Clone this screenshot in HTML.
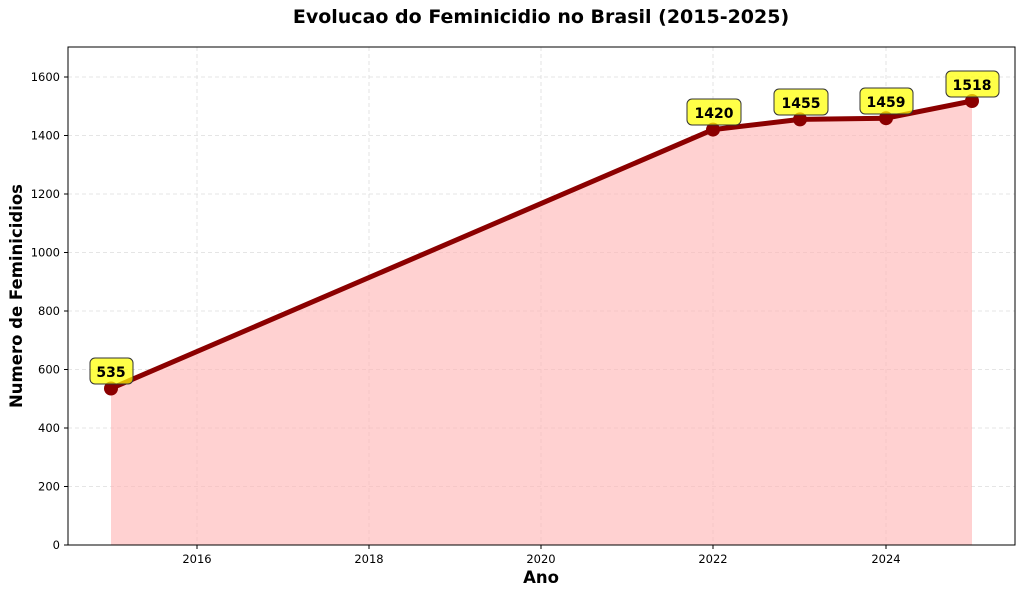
<!DOCTYPE html>
<html><head><meta charset="utf-8"><style>body{margin:0;background:#fff}svg{display:block}</style></head><body>
<svg width="1024" height="595" xmlns="http://www.w3.org/2000/svg" font-family="'DejaVu Sans',sans-serif">
<rect width="1024" height="595" fill="#fff"/>
<text x="541" y="23" text-anchor="middle" font-size="19" font-weight="bold">Evolucao do Feminicidio no Brasil (2015-2025)</text>
<g stroke="#ddd" stroke-dasharray="4,3" stroke-width="0.8">
<line x1="197" y1="47" x2="197" y2="545"/><line x1="369" y1="47" x2="369" y2="545"/><line x1="541" y1="47" x2="541" y2="545"/><line x1="713" y1="47" x2="713" y2="545"/><line x1="886" y1="47" x2="886" y2="545"/>
<line x1="68" y1="486.5" x2="1015" y2="486.5"/><line x1="68" y1="428" x2="1015" y2="428"/><line x1="68" y1="369.5" x2="1015" y2="369.5"/><line x1="68" y1="311" x2="1015" y2="311"/><line x1="68" y1="252.5" x2="1015" y2="252.5"/><line x1="68" y1="194" x2="1015" y2="194"/><line x1="68" y1="135.5" x2="1015" y2="135.5"/><line x1="68" y1="77" x2="1015" y2="77"/>
</g>
<polygon points="111,545 111,388.5 713,129.6 800,119.4 886,118.2 972,101 972,545" fill="#ffb3b3" fill-opacity="0.6"/>
<polyline points="111,388.5 713,129.6 800,119.4 886,118.2 972,101" fill="none" stroke="#8b0000" stroke-width="5" stroke-linejoin="round"/>
<g fill="#8b0000"><circle cx="111" cy="388.5" r="7"/><circle cx="713" cy="129.6" r="7"/><circle cx="800" cy="119.4" r="7"/><circle cx="886" cy="118.2" r="7"/><circle cx="972" cy="101" r="7"/></g>
<g fill="#ffff00" fill-opacity="0.72" stroke="#333" stroke-width="1">
<rect x="90" y="358" width="43" height="26" rx="5"/>
<rect x="687" y="99" width="54" height="26" rx="5"/>
<rect x="774" y="89" width="54" height="26" rx="5"/>
<rect x="860" y="88" width="53" height="26" rx="5"/>
<rect x="946" y="71" width="53" height="26" rx="5"/>
</g>
<g font-size="14" font-weight="bold" text-anchor="middle">
<text x="111" y="377">535</text><text x="714" y="118">1420</text><text x="801" y="108">1455</text><text x="886" y="107">1459</text><text x="972" y="90">1518</text>
</g>
<rect x="68" y="47" width="947" height="498" fill="none" stroke="#000" stroke-width="1"/>
<g stroke="#000"><line x1="197" y1="545" x2="197" y2="549"/><line x1="369" y1="545" x2="369" y2="549"/><line x1="541" y1="545" x2="541" y2="549"/><line x1="713" y1="545" x2="713" y2="549"/><line x1="886" y1="545" x2="886" y2="549"/>
<line x1="64" y1="545" x2="68" y2="545"/><line x1="64" y1="486.5" x2="68" y2="486.5"/><line x1="64" y1="428" x2="68" y2="428"/><line x1="64" y1="369.5" x2="68" y2="369.5"/><line x1="64" y1="311" x2="68" y2="311"/><line x1="64" y1="252.5" x2="68" y2="252.5"/><line x1="64" y1="194" x2="68" y2="194"/><line x1="64" y1="135.5" x2="68" y2="135.5"/><line x1="64" y1="77" x2="68" y2="77"/></g>
<g font-size="11.5" text-anchor="middle"><text x="197" y="563">2016</text><text x="369" y="563">2018</text><text x="541" y="563">2020</text><text x="713" y="563">2022</text><text x="886" y="563">2024</text></g>
<g font-size="11.5" text-anchor="end"><text x="60" y="549">0</text><text x="60" y="490.5">200</text><text x="60" y="432">400</text><text x="60" y="373.5">600</text><text x="60" y="315">800</text><text x="60" y="256.5">1000</text><text x="60" y="198">1200</text><text x="60" y="139.5">1400</text><text x="60" y="81">1600</text></g>
<text x="541" y="583" text-anchor="middle" font-size="16.5" font-weight="bold">Ano</text>
<text transform="translate(22,296) rotate(-90)" text-anchor="middle" font-size="16.5" font-weight="bold">Numero de Feminicidios</text>
</svg>
</body></html>
